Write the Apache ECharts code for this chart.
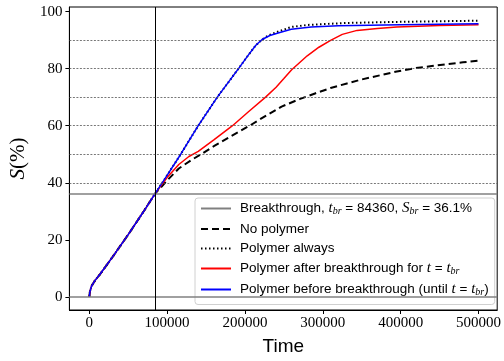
<!doctype html>
<html>
<head>
<meta charset="UTF-8">
<title>S vs Time</title>
<script src="https://cdn.jsdelivr.net/npm/echarts@6/dist/echarts.min.js"></script>
<style>
  html, body { margin: 0; padding: 0; background: #fff; }
  #main { width: 504px; height: 361px; }
</style>
</head>
<body>
<div id="main"></div>
<script>
// breakthrough point
var tBr = 84360;
var sBr = 36.1;

// curve shared by all runs up to breakthrough
var commonT = [0, 1000, 3000, 7000, 14000, 30000, 50000, 70000, 84360];
var commonS = [0, 2.0, 3.8, 5.6, 8.0, 14.0, 21.8, 30.0, 36.1];

// no polymer (after breakthrough)
var noPolyT = [100000, 115000, 132000, 145000, 160000, 180000, 206000, 225000, 247000, 270000, 290000, 310000, 331000, 350000, 374000, 395000, 417000, 440000, 460000, 480000, 500000];
var noPolyS = [40.8, 45.0, 48.1, 50.2, 52.8, 56.0, 60.0, 63.2, 66.7, 69.3, 71.3, 73.2, 74.8, 76.2, 77.7, 79.0, 80.1, 80.9, 81.6, 82.2, 82.8];

// polymer always
var alwaysT = [95000, 117500, 140000, 164500, 191700, 205000, 214000, 222000, 230000, 240000, 259500, 280000, 300000, 331000, 400000, 450000, 500000];
var alwaysS = [40.5, 50.0, 60.0, 70.0, 80.0, 85.0, 88.2, 90.2, 91.6, 92.7, 94.6, 95.3, 95.6, 96.0, 96.4, 96.6, 96.8];

// polymer after breakthrough
var afterT = [100000, 115000, 128000, 140000, 160000, 184000, 204500, 226500, 240000, 250000, 260000, 280000, 295000, 310000, 325000, 344000, 370000, 395000, 450000, 500000];
var afterS = [41.8, 46.4, 49.2, 51.0, 55.0, 60.0, 64.9, 70.0, 73.5, 76.5, 79.6, 84.5, 87.5, 89.9, 92.0, 93.4, 94.1, 94.6, 95.1, 95.4];

// polymer before breakthrough
var beforeT = [95000, 117500, 140000, 164500, 191700, 205000, 214000, 222000, 232000, 242600, 259500, 285000, 320000, 400000, 500000];
var beforeS = [40.5, 50.0, 60.0, 70.0, 80.0, 85.0, 88.2, 90.2, 91.6, 92.5, 93.8, 94.6, 95.0, 95.4, 95.7];

var gridLevels = [40, 50, 60, 70, 80, 90];
var xTicks = [0, 100000, 200000, 300000, 400000, 500000];
var yTicks = [0, 20, 40, 60, 80, 100];

var names = {
  br: 'Breakthrough',
  none: 'No polymer',
  always: 'Polymer always',
  after: 'Polymer after breakthrough',
  before: 'Polymer before breakthrough'
};

function build(ts, ss) {
  var out = [];
  for (var i = 0; i < commonT.length; i++) out.push([commonT[i], commonS[i]]);
  for (var j = 0; j < ts.length; j++) out.push([ts[j], ss[j]]);
  return out;
}

var legendText = {};
legendText[names.br] = 'Breakthrough, {m|t}{s|br}{t| = 84360, }{m|S}{s|br}{t| = 36.1%}';
legendText[names.none] = 'No polymer';
legendText[names.always] = 'Polymer always';
legendText[names.after] = 'Polymer after breakthrough for {m|t}{t| = }{m|t}{s|br}';
legendText[names.before] = 'Polymer before breakthrough (until {m|t}{t| = }{m|t}{s|br}{t|)}';

var myChart = echarts.init(document.getElementById('main'), null, { renderer: 'canvas' });

var tickFont = { fontFamily: 'Liberation Serif', fontSize: 15, color: '#000' };
var legendSize = 13.5;

var option = {
  animation: false,
  backgroundColor: '#fff',
  grid: {
    left: 69, right: 3, top: 7, bottom: 50,
    show: true, borderColor: '#000', borderWidth: 1, backgroundColor: 'transparent'
  },
  legend: {
    orient: 'vertical',
    left: 195, top: 198,
    padding: [3, 6, 7, 5],
    itemGap: 5.5,
    itemWidth: 30, itemHeight: 14,
    backgroundColor: 'rgba(255,255,255,0.85)',
    borderColor: '#d0d0d0', borderWidth: 1, borderRadius: 3,
    itemStyle: { opacity: 0 },
    data: [names.br, names.none, names.always, names.after, names.before],
    formatter: function (n) { return legendText[n]; },
    textStyle: {
      fontFamily: 'Liberation Sans', fontSize: legendSize, color: '#000', padding: [0, 0, 0, 4],
      rich: {
        t: { fontFamily: 'Liberation Sans', fontSize: legendSize, color: '#000' },
        m: { fontFamily: 'Liberation Serif', fontStyle: 'italic', fontSize: 15, color: '#000' },
        s: { fontFamily: 'Liberation Serif', fontStyle: 'italic', fontSize: 10, color: '#000', padding: [6, 0, 0, 0] }
      }
    }
  },
  xAxis: {
    type: 'value',
    min: -25500, max: 524000,
    name: 'Time',
    nameLocation: 'middle',
    nameGap: 27,
    nameTextStyle: { fontFamily: 'Liberation Sans', fontSize: 19, color: '#000' },
    axisLine: { show: true, onZero: false, lineStyle: { color: '#000', width: 1 } },
    splitLine: { show: false },
    axisTick: { show: true, inside: false, length: 4, customValues: xTicks, lineStyle: { color: '#000' } },
    axisLabel: Object.assign({
      margin: 6, customValues: xTicks,
      formatter: function (v) { return String(v); }
    }, tickFont)
  },
  yAxis: {
    type: 'value',
    min: -4.6, max: 101.6,
    name: '{i|S}(%)',
    nameLocation: 'middle',
    nameGap: 33,
    nameRotate: 90,
    nameTextStyle: {
      fontFamily: 'Liberation Serif', fontSize: 21, color: '#000',
      rich: { i: { fontFamily: 'Liberation Serif', fontStyle: 'italic', fontSize: 21, color: '#000' } }
    },
    axisLine: { show: true, onZero: false, lineStyle: { color: '#000', width: 1 } },
    splitLine: { show: false },
    axisTick: { show: true, inside: false, length: 4, customValues: yTicks, lineStyle: { color: '#000' } },
    axisLabel: Object.assign({
      margin: 7, customValues: yTicks,
      formatter: function (v) { return String(v); }
    }, tickFont)
  },
  series: [
    {
      name: names.br,
      type: 'line',
      symbol: 'none',
      data: [],
      z: 1,
      lineStyle: { color: '#808080', width: 1.5 },
      itemStyle: { color: '#808080' },
      markLine: {
        silent: true,
        symbol: 'none',
        label: { show: false },
        data: [
          { yAxis: sBr, lineStyle: { color: '#808080', width: 1.5, type: 'solid' } },
          { yAxis: 0, lineStyle: { color: '#808080', width: 1.5, type: 'solid' } },
          { xAxis: tBr, lineStyle: { color: '#000', width: 1, type: 'solid' } }
        ].concat(gridLevels.map(function (v) {
          return { yAxis: v, lineStyle: { color: '#555', width: 0.8, type: [2, 1.5] } };
        }))
      }
    },
    {
      name: names.none,
      type: 'line',
      symbol: 'none',
      data: build(noPolyT, noPolyS),
      lineStyle: { color: '#000', width: 2, type: [7, 4] },
      itemStyle: { color: '#000' }
    },
    {
      name: names.always,
      type: 'line',
      symbol: 'none',
      data: build(alwaysT, alwaysS),
      lineStyle: { color: '#000', width: 2, type: [1.5, 2.5] },
      itemStyle: { color: '#000' }
    },
    {
      name: names.after,
      type: 'line',
      symbol: 'none',
      data: build(afterT, afterS),
      lineStyle: { color: '#ff0000', width: 1.5 },
      itemStyle: { color: '#ff0000' }
    },
    {
      name: names.before,
      type: 'line',
      symbol: 'none',
      data: build(beforeT, beforeS),
      lineStyle: { color: '#0000ff', width: 1.5 },
      itemStyle: { color: '#0000ff' }
    }
  ]
};

myChart.setOption(option);
</script>
</body>
</html>
